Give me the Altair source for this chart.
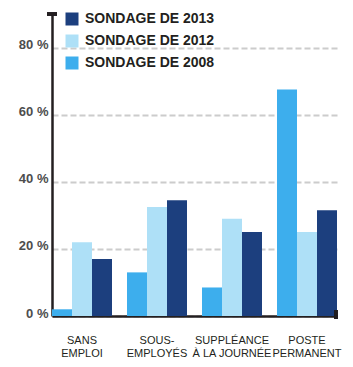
import altair as alt
import pandas as pd

categories = ["SANS\nEMPLOI", "SOUS-\nEMPLOYÉS", "SUPPLÉANCE\nÀ LA JOURNÉE", "POSTE\nPERMANENT"]
series_names = ["SONDAGE DE 2008", "SONDAGE DE 2012", "SONDAGE DE 2013"]
s2008 = [2, 13, 8.5, 67.5]
s2012 = [22, 32.5, 29, 25]
s2013 = [17, 34.5, 25, 31.5]
y_ticks = [0, 20, 40, 60, 80]

rows = []
for name, vals in zip(series_names, [s2008, s2012, s2013]):
    for c, v in zip(categories, vals):
        rows.append({"cat": c, "series": name, "value": v})
df = pd.DataFrame(rows)

legend_order = ["SONDAGE DE 2013", "SONDAGE DE 2012", "SONDAGE DE 2008"]
colors = ["#1c3f7e", "#aee0f7", "#3daeed"]
FONT = "Liberation Sans"

bars = alt.Chart(df).mark_bar().encode(
    x=alt.X("cat:N", sort=categories,
            scale=alt.Scale(paddingInner=0.2, paddingOuter=0),
            axis=alt.Axis(title=None, labelAngle=0, ticks=False, tickSize=0,
                          labelExpr="split(datum.label, '\\n')",
                          labelFont=FONT, labelFontSize=11, labelColor="#231f20",
                          labelPadding=18, labelLineHeight=13,
                          domainColor="#231f20", domainWidth=2.5, grid=False)),
    xOffset=alt.XOffset("series:N", scale=alt.Scale(domain=series_names, paddingInner=0, paddingOuter=0)),
    y=alt.Y("value:Q", scale=alt.Scale(domain=[0, 90], nice=False),
            axis=alt.Axis(title=None, values=y_ticks, ticks=False, tickSize=0,
                          labelExpr="datum.value + ' %'",
                          labelFont=FONT, labelFontSize=13, labelFontWeight="bold",
                          labelColor="#4d4d4d", labelPadding=4, labelBaseline="alphabetic",
                          labelOffset=1,
                          domainColor="#231f20", domainWidth=2.5,
                          grid=True, gridColor="#cccccc", gridDash=[6, 3], gridWidth=2)),
    color=alt.Color("series:N", scale=alt.Scale(domain=legend_order, range=colors),
                    legend=alt.Legend(title=None, orient="none", legendX=13, legendY=-2,
                                      symbolType="square", symbolSize=169, symbolStrokeWidth=0,
                                      symbolOpacity=1,
                                      labelFont=FONT, labelFontSize=14, labelFontWeight="bold",
                                      labelColor="#231f20", labelOffset=6, rowPadding=8)),
)

top_tick = alt.Chart(df).mark_rule(color="#231f20", strokeWidth=2.5).encode(
    y=alt.datum(90), x=alt.value(-5), x2=alt.value(5))
right_tick = alt.Chart(df).mark_rule(color="#231f20", strokeWidth=2.5).encode(
    x=alt.value(284), y=alt.value(296), y2=alt.value(305))

chart = alt.layer(bars, top_tick, right_tick).properties(
    width=285, height=302,
    autosize=alt.AutoSizeParams(type="none"),
    padding={"left": 52, "top": 14, "right": 16, "bottom": 51},
).configure_view(stroke=None)

chart.save("out.html", embed_options={"renderer": "svg", "actions": False})
